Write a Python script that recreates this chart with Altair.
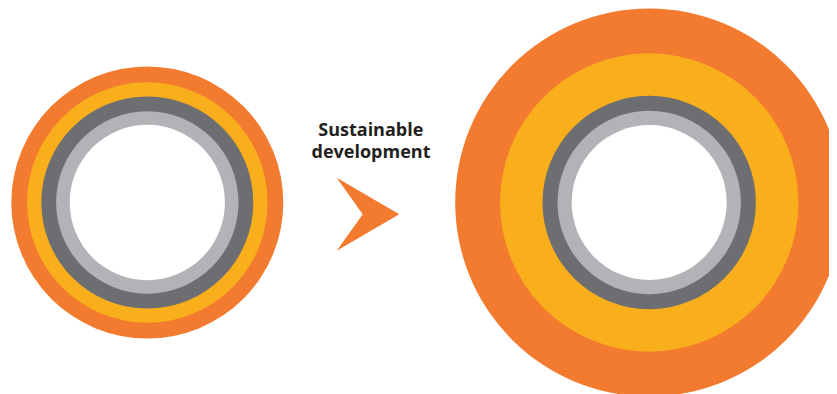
import altair as alt
import pandas as pd

# --- data (pixel space of the 837x394 image) ---
ring_names = ["outer", "yellow", "dark grey", "light grey", "core"]
ring_colors = ["#F37B30", "#F9AE1C", "#6D6E71", "#B2B3B6", "#FFFFFF"]
left_radii = [136, 120.2, 106, 91.2, 77.6]
right_radii = [194, 149.2, 106.7, 91.7, 77.5]
left_center = (147.3, 202.5)
right_center = (649.2, 202.5)

arrow_y = [177.7, 214.3, 250.7]
arrow_x_inner = [336.7, 362.7, 336.7]
arrow_x_outer = [336.7, 399.3, 336.7]

labels = ["Sustainable", "development"]
label_x = [370.8, 371.0]
label_y = [136.0, 158.0]

W, H = 821, 386
xs = alt.Scale(domain=[8, 8 + W], range=[0, W], nice=False, zero=False)
ys = alt.Scale(domain=[8, 8 + H], range=[0, H], nice=False, zero=False)

rows = []
order = 0
for (cx, cy), radii in [(left_center, left_radii), (right_center, right_radii)]:
    for name, col, r in zip(ring_names, ring_colors, radii):
        rows.append({"ring": name, "cx": cx, "cy": cy, "size": 4 * r * r, "color": col, "k": order})
        order += 1
rings = pd.DataFrame(rows)

circles = alt.Chart(rings).mark_point(filled=True, opacity=1, strokeWidth=0, shape="circle").encode(
    x=alt.X("cx:Q", scale=xs, axis=None),
    y=alt.Y("cy:Q", scale=ys, axis=None),
    size=alt.Size("size:Q", scale=None, legend=None),
    color=alt.Color("color:N", scale=None, legend=None),
    order=alt.Order("k:Q"),
)

arrow_df = pd.DataFrame({"y": arrow_y, "x": arrow_x_inner, "x2": arrow_x_outer})
arrow = alt.Chart(arrow_df).mark_area(orient="horizontal", color="#F37B30", opacity=1).encode(
    y=alt.Y("y:Q", scale=ys, axis=None),
    x=alt.X("x:Q", scale=xs, axis=None),
    x2="x2:Q",
)

text_df = pd.DataFrame({"t": labels, "x": label_x, "y": label_y})
text = alt.Chart(text_df).mark_text(
    font="Open Sans", fontWeight="bold", fontSize=18, align="center", baseline="alphabetic", color="#231F20"
).encode(
    x=alt.X("x:Q", scale=xs, axis=None),
    y=alt.Y("y:Q", scale=ys, axis=None),
    text="t:N",
)

chart = alt.layer(circles, arrow, text).properties(
    width=W, height=H, padding=0, autosize=alt.AutoSizeParams(type="none")
).configure_view(strokeWidth=0)

chart.save("out.html", embed_options={"renderer": "svg", "actions": False})
